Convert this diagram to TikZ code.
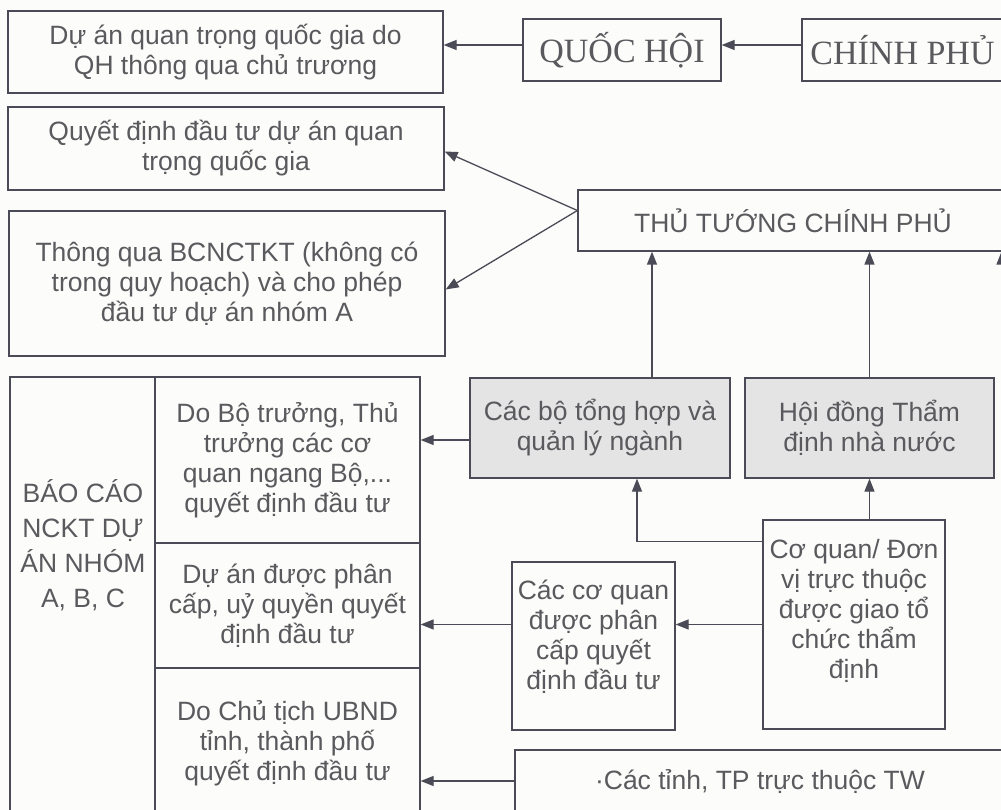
\documentclass[tikz,border=0pt]{standalone}
\usepackage{fontspec}
\setmainfont{Liberation Sans}
\newfontfamily\titlefont{Liberation Serif}
\usetikzlibrary{arrows.meta}
\definecolor{ink}{HTML}{4B4B58}
\definecolor{txt}{HTML}{5A5A5E}
\definecolor{paper}{HTML}{FCFCFA}
\definecolor{shade}{HTML}{E4E4E4}
\begin{document}
\begin{tikzpicture}[x=1pt,y=-1pt,
  box/.style={draw=ink, line width=1.3pt, fill=paper, text=txt, align=center,
    inner sep=0pt, font=\fontsize{26.5}{30}\selectfont},
  shadedbox/.style={box, fill=shade},
  titlebox/.style={box, font=\titlefont\fontsize{34}{40}\selectfont},
  label/.style={text=txt, align=center, inner sep=0pt, font=\fontsize{26.5}{35}\selectfont},
  link/.style={draw=ink, line width=1.3pt, -{Triangle[length=13pt,width=10pt]}}]

\useasboundingbox (0,0) rectangle (1001,810);
\fill[paper] (0,0) rectangle (1001,810);
\clip (0,0) rectangle (1001,810);

% top row
\node[box, minimum width=435, minimum height=82] (qhproj) at (225.5,52)
  {Dự án quan trọng quốc gia do\\QH thông qua chủ trương};
\node[titlebox, minimum width=198, minimum height=62] (qh) at (622,50) {QUỐC HỘI};
\node[titlebox, minimum width=201, minimum height=62] (cp) at (902.5,50) {CHÍNH PHỦ};

% decisions of the prime minister
\node[box, minimum width=436, minimum height=83] (invest) at (226,148.5)
  {Quyết định đầu tư dự án quan\\trọng quốc gia};
\node[box, minimum width=436, minimum height=145] (bcn) at (227,283.5)
  {Thông qua BCNCTKT (không có\\trong quy hoạch) và cho phép\\đầu tư dự án nhóm A};
\node[box, minimum width=430, minimum height=61] (ttg) at (793,220.5)
  {THỦ TƯỚNG CHÍNH PHỦ};

% report column and its three cells
\node[box, minimum width=145, minimum height=441] (abc) at (82.5,597.5) {};
\node[label] (abctext) at (83,545) {BÁO CÁO\\NCKT DỰ\\ÁN NHÓM\\A, B, C};
\node[box, minimum width=265, minimum height=166] (c1) at (287.5,460)
  {Do Bộ trưởng, Thủ\\trưởng các cơ\\quan ngang Bộ,...\\quyết định đầu tư};
\node[box, minimum width=265, minimum height=125] (c2) at (287.5,605.5)
  {Dự án được phân\\cấp, uỷ quyền quyết\\định đầu tư};
\node[box, minimum width=265, minimum height=150] (c3) at (287.5,743)
  {Do Chủ tịch UBND\\tỉnh, thành phố\\quyết định đầu tư};

% appraisal bodies
\node[shadedbox, minimum width=260, minimum height=100] (cbo) at (600,428)
  {Các bộ tổng hợp và\\quản lý ngành};
\node[shadedbox, minimum width=249, minimum height=100] (hd) at (869.5,428)
  {Hội đồng Thẩm\\định nhà nước};
\node[box, minimum width=182, minimum height=209, text depth=32pt] (cq) at (854,624.5)
  {Cơ quan/ Đơn\\vị trực thuộc\\được giao tổ\\chức thẩm\\định};
\node[box, minimum width=163, minimum height=168, text depth=23pt] (cpc) at (593.5,646)
  {Các cơ quan\\được phân\\cấp quyết\\định đầu tư};
\node[box, minimum width=490, minimum height=62] (tinh) at (760,781)
  {·Các tỉnh, TP trực thuộc TW};

% connectors
\draw[link] ([yshift=5pt]qh.west) -- ([yshift=5pt]qh.west -| qhproj.east);
\draw[link] ([yshift=5pt]cp.west) -- ([yshift=5pt]cp.west -| qh.east);
\coordinate (ttgjoin) at ([yshift=10pt]ttg.west);
\draw[link] (ttgjoin) -- ([yshift=-3pt]invest.east);
\draw[link] (ttgjoin) -- ([yshift=-6pt]bcn.east);
\draw[link] ([xshift=52pt]cbo.north) -- ([xshift=52pt]cbo.north |- ttg.south);
\draw[link] (hd.north) -- (hd.north |- ttg.south);
\coordinate (edgefeed) at (1001.5,480);
\draw[link] (edgefeed) -- (edgefeed |- ttg.south);
\draw[link] ([yshift=-12pt]cbo.west) -- ([yshift=-12pt]cbo.west -| c1.east);
\draw[link] (cq.north -| hd.south) -- (hd.south);
\draw[link] ([yshift=-22pt]cq.north west) -| ([xshift=37pt]cbo.south);
\draw[link] (cq.west) -- (cq.west -| cpc.east);
\draw[link] (cpc.west |- cq.west) -- (cq.west -| c2.east);
\draw[link] (tinh.west) -- (tinh.west -| c3.east);
\end{tikzpicture}
\end{document}
